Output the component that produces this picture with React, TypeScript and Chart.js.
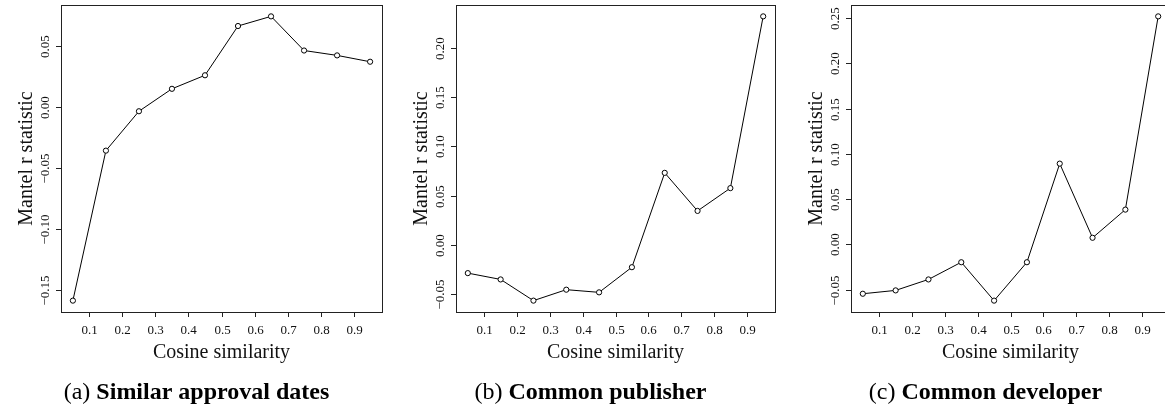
import React, { useEffect, useRef } from "react";
import { Chart, registerables } from "chart.js";

Chart.register(...registerables);

// ---- Data ----
const cosineBins = [0.05, 0.15, 0.25, 0.35, 0.45, 0.55, 0.65, 0.75, 0.85, 0.95];
const xTickValues = [0.1, 0.2, 0.3, 0.4, 0.5, 0.6, 0.7, 0.8, 0.9];

const approvalValues = [-0.1588, -0.0358, -0.0035, 0.0149, 0.026, 0.0664, 0.0743, 0.0463, 0.0423, 0.0371];
const publisherValues = [-0.0285, -0.0349, -0.0564, -0.0453, -0.048, -0.0225, 0.0732, 0.0346, 0.0577, 0.2319];
const developerValues = [-0.0545, -0.0508, -0.0387, -0.0197, -0.0621, -0.0197, 0.0892, 0.0073, 0.0384, 0.2518];

const approvalYTicks = [-0.15, -0.1, -0.05, 0, 0.05];
const publisherYTicks = [-0.05, 0, 0.05, 0.1, 0.15, 0.2];
const developerYTicks = [-0.05, 0, 0.05, 0.1, 0.15, 0.2, 0.25];

const xTitle = "Cosine similarity";
const yTitle = "Mantel r statistic";

const SERIF = '"Liberation Serif", "Times New Roman", Times, serif';

type PanelProps = {
  values: number[];
  yTicks: number[];
  label: string;
  caption: string;
  pageLeft: number;
  canvasWidth: number;
  padLeft: number;
  padRight: number;
};

function rangeWithPad(vals: number[]): [number, number] {
  const mn = Math.min(...vals);
  const mx = Math.max(...vals);
  const d = (mx - mn) * 0.04;
  return [mn - d, mx + d];
}

const fmtY = (v: number) => {
  const s = Math.abs(v).toFixed(2);
  return v < -1e-9 ? "\u2212" + s : s;
};

function Panel(props: PanelProps) {
  const ref = useRef<HTMLCanvasElement | null>(null);
  useEffect(() => {
    const canvas = ref.current;
    if (!canvas) return;
    const [xmin, xmax] = rangeWithPad(cosineBins);
    const [ymin, ymax] = rangeWithPad(props.values);

    const decor = {
      id: "rDecor",
      afterDraw(chart: any) {
        const ctx = chart.ctx as CanvasRenderingContext2D;
        const a = chart.chartArea;
        const xs = chart.scales.x;
        const ys = chart.scales.y;
        ctx.save();
        ctx.strokeStyle = "#222";
        ctx.lineWidth = 1;
        // box
        ctx.strokeRect(Math.round(a.left) + 0.5, Math.round(a.top) + 0.5, Math.round(a.right - a.left), Math.round(a.bottom - a.top));
        // x ticks
        ctx.fillStyle = "#111";
        ctx.font = `13px ${SERIF}`;
        ctx.textAlign = "center";
        ctx.textBaseline = "alphabetic";
        for (const t of xTickValues) {
          const px = Math.round(xs.getPixelForValue(t)) + 0.5;
          ctx.beginPath();
          ctx.moveTo(px, a.bottom);
          ctx.lineTo(px, a.bottom + 5);
          ctx.stroke();
          ctx.fillText(t.toFixed(1), px, a.bottom + 22);
        }
        // y ticks
        for (const t of props.yTicks) {
          const py = Math.round(ys.getPixelForValue(t)) + 0.5;
          ctx.beginPath();
          ctx.moveTo(a.left - 5, py);
          ctx.lineTo(a.left, py);
          ctx.stroke();
          ctx.save();
          ctx.translate(a.left - 12.5, py);
          ctx.rotate(-Math.PI / 2);
          ctx.textAlign = "center";
          ctx.fillText(fmtY(t), 0, 0);
          ctx.restore();
        }
        const cx = (a.left + a.right) / 2;
        const cy = (a.top + a.bottom) / 2;
        // titles
        ctx.font = `20px ${SERIF}`;
        ctx.textAlign = "center";
        ctx.fillText(xTitle, cx, a.bottom + 46);
        ctx.save();
        ctx.translate(a.left - 29, cy);
        ctx.rotate(-Math.PI / 2);
        ctx.fillText(yTitle, 0, 0);
        ctx.restore();
        // caption
        const regular = `24px ${SERIF}`;
        const bold = `bold 24px ${SERIF}`;
        const p1 = `(${props.label}) `;
        ctx.font = regular;
        const w1 = ctx.measureText(p1).width;
        ctx.font = bold;
        const w2 = ctx.measureText(props.caption).width;
        const capCenter = cx - 25;
        const start = capCenter - (w1 + w2) / 2;
        ctx.textAlign = "left";
        ctx.fillStyle = "#000";
        ctx.font = regular;
        ctx.fillText(p1, start, 399);
        ctx.font = bold;
        ctx.fillText(props.caption, start + w1, 399);
        ctx.restore();
      },
    };

    const chart = new Chart(canvas, {
      type: "line",
      data: {
        datasets: [
          {
            data: cosineBins.map((x, i) => ({ x, y: props.values[i] })),
            borderColor: "#000",
            borderWidth: 1,
            pointRadius: 2.6,
            pointBorderWidth: 1,
            pointBorderColor: "#000",
            pointBackgroundColor: "#fff",
            tension: 0,
            fill: false,
          },
        ],
      },
      options: {
        responsive: false,
        animation: false,
        events: [],
        layout: { padding: { left: props.padLeft, right: props.padRight, top: 3, bottom: 96 } },
        plugins: { legend: { display: false }, tooltip: { enabled: false }, title: { display: false } },
        scales: {
          x: { type: "linear", min: xmin, max: xmax, display: false },
          y: { type: "linear", min: ymin, max: ymax, display: false },
        },
      },
      plugins: [decor],
    });
    return () => chart.destroy();
  }, []);
  return (
    <canvas
      ref={ref}
      width={props.canvasWidth}
      height={408}
      style={{ position: "absolute", left: props.pageLeft, top: 0, width: props.canvasWidth, height: 408 }}
    />
  );
}

export default function App() {
  return (
    <div
      style={{
        position: "fixed",
        left: 0,
        top: 0,
        width: 1165,
        height: 408,
        overflow: "hidden",
        background: "#fff",
      }}
    >
      <Panel values={approvalValues} yTicks={approvalYTicks} label="a" caption="Similar approval dates" pageLeft={0} canvasWidth={390} padLeft={61} padRight={8} />
      <Panel values={publisherValues} yTicks={publisherYTicks} label="b" caption="Common publisher" pageLeft={390} canvasWidth={390} padLeft={66} padRight={4} />
      <Panel values={developerValues} yTicks={developerYTicks} label="c" caption="Common developer" pageLeft={775} canvasWidth={400} padLeft={76} padRight={3} />
    </div>
  );
}
